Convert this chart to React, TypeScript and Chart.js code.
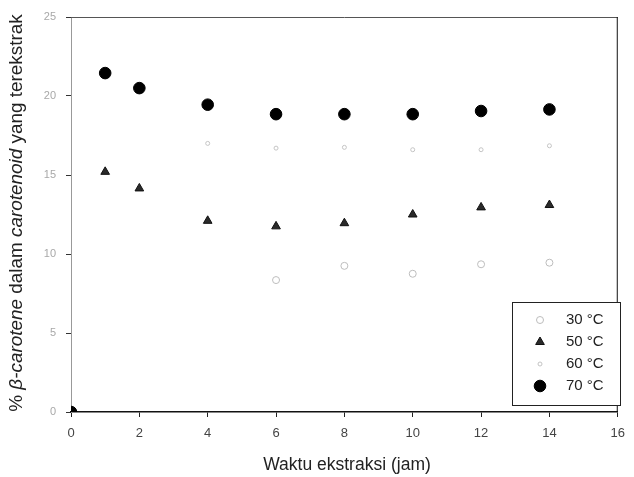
import React, { useEffect, useRef } from 'react';
import { Chart, registerables } from 'chart.js';

Chart.register(...registerables);

// ---- data ----
const timeHours = [0, 1, 2, 4, 6, 8, 10, 12, 14];
const series30 = [0, null, null, null, 8.35, 9.25, 8.75, 9.35, 9.45];
const series50 = [0, 15.2, 14.15, 12.1, 11.75, 11.95, 12.5, 12.95, 13.1];
const series60 = [0, null, null, 17.0, 16.7, 16.75, 16.6, 16.6, 16.85];
const series70 = [0, 21.45, 20.5, 19.45, 18.85, 18.85, 18.85, 19.05, 19.15];
const seriesLabels = ['30 °C', '50 °C', '60 °C', '70 °C'];

const xMin = 0;
const xMax = 16;
const xStep = 2;
const yMin = 0;
const yMax = 25;
const yStep = 5;

const xTitle = 'Waktu ekstraksi (jam)';
const yTitleParts: [string, boolean][] = [
  ['% ', false],
  ['β-carotene', true],
  [' dalam ', false],
  ['carotenoid', true],
  [' yang terekstrak', false],
];

const FONT = '"Liberation Sans", Arial, sans-serif';

const toPoints = (vals: (number | null)[]) =>
  timeHours
    .map((x, i) => ({ x, y: vals[i] }))
    .filter((p) => p.y !== null) as { x: number; y: number }[];

type Style = {
  pointStyle: string;
  radius: number;
  fill: string;
  stroke: string;
  width: number;
};

const styles: Style[] = [
  { pointStyle: 'circle', radius: 3.5, fill: 'rgba(0,0,0,0)', stroke: '#bdbdbd', width: 1 },
  { pointStyle: 'triangle', radius: 5, fill: '#2a2a2a', stroke: '#111', width: 1 },
  { pointStyle: 'circle', radius: 2, fill: 'rgba(0,0,0,0)', stroke: '#c4c4c4', width: 1 },
  { pointStyle: 'circle', radius: 5.8, fill: '#000', stroke: '#000', width: 1 },
];

const drawMarker = (ctx: CanvasRenderingContext2D, s: Style, x: number, y: number) => {
  ctx.save();
  ctx.fillStyle = s.fill;
  ctx.strokeStyle = s.stroke;
  ctx.lineWidth = s.width;
  ctx.beginPath();
  if (s.pointStyle === 'triangle') {
    const r = s.radius;
    ctx.moveTo(x, y - r);
    ctx.lineTo(x + r * 0.866, y + r * 0.5);
    ctx.lineTo(x - r * 0.866, y + r * 0.5);
    ctx.closePath();
  } else {
    ctx.arc(x, y, s.radius, 0, Math.PI * 2);
  }
  ctx.fill();
  ctx.stroke();
  ctx.restore();
};

const decorPlugin = {
  id: 'decor',
  afterDraw(chart: any) {
    const ctx: CanvasRenderingContext2D = chart.ctx;
    const { left, right, top, bottom } = chart.chartArea;
    ctx.save();
    // top & right frame
    ctx.strokeStyle = '#555';
    ctx.lineWidth = 1;
    ctx.beginPath();
    ctx.moveTo(left, top + 0.5);
    ctx.lineTo(right, top + 0.5);
    ctx.stroke();
    ctx.strokeStyle = '#111';
    ctx.beginPath();
    ctx.moveTo(right - 0.5, top);
    ctx.lineTo(right - 0.5, bottom);
    ctx.stroke();

    // legend box
    const bx = 512;
    const by = 302;
    const bw = 108;
    const bh = 103;
    ctx.fillStyle = '#fff';
    ctx.fillRect(bx, by, bw, bh);
    ctx.strokeStyle = '#222';
    ctx.lineWidth = 1;
    ctx.strokeRect(bx + 0.5, by + 0.5, bw, bh);
    ctx.font = `15px ${FONT}`;
    ctx.textBaseline = 'middle';
    ctx.textAlign = 'left';
    ctx.fillStyle = '#222';
    seriesLabels.forEach((lab, i) => {
      const y = 320 + i * 22;
      drawMarker(ctx, styles[i], 540, y);
      ctx.fillText(lab, 566, y);
    });

    // x title
    ctx.font = `17.5px ${FONT}`;
    ctx.textAlign = 'center';
    ctx.textBaseline = 'middle';
    ctx.fillStyle = '#222';
    ctx.fillText(xTitle, 347, 465);

    // y title (rotated, mixed italic)
    const size = 17.5;
    let total = 0;
    const widths = yTitleParts.map(([t, it]) => {
      ctx.font = `${it ? 'italic ' : ''}${size}px ${FONT}`;
      const w = ctx.measureText(t).width;
      total += w;
      return w;
    });
    ctx.translate(17, 213);
    ctx.rotate(-Math.PI / 2);
    ctx.scale(1.08, 1);
    ctx.textAlign = 'left';
    let cx = -total / 2;
    yTitleParts.forEach(([t, it], i) => {
      ctx.font = `${it ? 'italic ' : ''}${size}px ${FONT}`;
      ctx.fillText(t, cx, 0);
      cx += widths[i];
    });
    ctx.restore();
  },
};

export default function App() {
  const ref = useRef<HTMLCanvasElement | null>(null);

  useEffect(() => {
    if (!ref.current) return;
    const allSeries = [series30, series50, series60, series70];
    const chart = new Chart(ref.current, {
      type: 'scatter',
      data: {
        datasets: allSeries.map((vals, i) => ({
          label: seriesLabels[i],
          data: toPoints(vals),
          showLine: false,
          pointStyle: styles[i].pointStyle as any,
          pointRadius: styles[i].radius,
          pointBackgroundColor: styles[i].fill,
          pointBorderColor: styles[i].stroke,
          pointBorderWidth: styles[i].width,
          order: i === 3 ? 0 : 4 - i,
        })),
      },
      options: {
        responsive: false,
        animation: false,
        layout: { padding: { top: 17, right: 8, left: 0, bottom: 0 } },
        plugins: {
          legend: { display: false },
          tooltip: { enabled: false },
        },
        scales: {
          x: {
            type: 'linear',
            min: xMin,
            max: xMax,
            afterFit: (scale: any) => {
              scale.height = 65;
            },
            ticks: {
              stepSize: xStep,
              color: '#444',
              padding: 9,
              font: { family: FONT, size: 13 },
              maxRotation: 0,
            },
            grid: {
              drawOnChartArea: false,
              drawTicks: true,
              tickLength: 5,
              tickColor: '#222',
            },
            border: { display: true, color: '#111', width: 1.5 },
          },
          y: {
            type: 'linear',
            min: yMin,
            max: yMax,
            afterFit: (scale: any) => {
              scale.width = 71;
            },
            ticks: {
              stepSize: yStep,
              color: '#a8a8a8',
              padding: 10,
              font: { family: FONT, size: 11 },
            },
            grid: {
              drawOnChartArea: false,
              drawTicks: true,
              tickLength: 5,
              tickColor: '#333',
            },
            border: { display: true, color: '#999', width: 1 },
          },
        },
      },
      plugins: [decorPlugin],
    });
    return () => chart.destroy();
  }, []);

  return (
    <canvas
      ref={ref}
      width={634}
      height={477}
      style={{ position: 'absolute', left: 0, top: 0, display: 'block', width: 634, height: 477 }}
    />
  );
}
